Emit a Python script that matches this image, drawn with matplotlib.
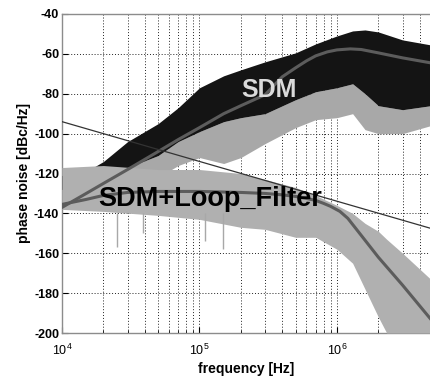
import matplotlib
matplotlib.use("Agg")
import matplotlib.pyplot as plt
import numpy as np

plt.rcParams['font.family'] = ['Liberation Sans', 'DejaVu Sans']
plt.rcParams['mathtext.fontset'] = 'custom'
plt.rcParams['mathtext.rm'] = 'Liberation Sans:bold'
plt.rcParams['mathtext.it'] = 'Liberation Sans:bold'
plt.rcParams['mathtext.bf'] = 'Liberation Sans:bold'

# ---- data ----
# SDM (black) spectrum envelope
sdm_freq = [1e4, 1.5e4, 2e4, 3e4, 5e4, 7e4, 1e5, 1.5e5, 2e5, 3e5, 5e5, 7e5,
            1e6, 1.3e6, 1.6e6, 2e6, 3e6, 4.8e6]
sdm_upper = [-121, -119, -114, -104, -95, -87, -77, -71, -68, -64, -59.5, -55,
             -51, -48.5, -48, -49, -53, -55.5]
sdm_lower = [-128, -127, -124, -117, -111, -104, -99, -94, -92, -90, -83, -79,
             -77, -75, -80, -86, -88, -86]
sdm_spike_min = [-136, -134, -132, -128, -122, -116, -112, -115, -112, -105, -97, -93,
                 -92, -90, -98, -100, -100, -96]

# SDM + loop filter (gray) spectrum envelope
flt_freq = [1e4, 2e4, 5e4, 1e5, 2e5, 3e5, 5e5, 7e5, 1e6, 1.3e6, 1.6e6, 2e6,
            2.3e6, 3e6, 4.8e6]
flt_upper = [-117, -116, -118, -118, -120, -123, -127, -131, -136, -140, -145, -149,
             -153, -160, -173]
flt_lower = [-138, -139, -141, -143, -147, -148, -152, -152, -158, -165, -178, -192,
             -200, -200, -200]
# isolated deep spikes of the filtered spectrum
flt_spike_freq = [2.5e4, 3.9e4, 1.1e5, 1.48e5]
flt_spike_min = [-157, -150, -154, -158]

# theoretical curves
th_sdm_freq = [1e4, 1.5e4, 2e4, 3e4, 5e4, 7e4, 1e5, 1.5e5, 2e5, 3e5, 4e5, 5e5,
               6e5, 7e5, 8.5e5, 1e6, 1.25e6, 1.5e6, 2e6, 3e6, 4.8e6]
th_sdm = [-137, -130, -125, -118, -109, -103, -97, -90, -86, -80.5, -71.5, -67,
          -63.5, -61, -59, -58, -57.5, -57.8, -59.5, -62, -64.5]
th_flt_freq = [1e4, 1.5e4, 2e4, 3e4, 5e4, 1e5, 2e5, 3e5, 4e5, 5e5, 6e5, 7e5,
               8e5, 9e5, 1.05e6, 1.2e6, 1.5e6, 2e6, 3e6, 4.8e6]
th_flt = [-135.5, -133, -131, -129.5, -129, -129, -129.5, -130, -130.7, -131.5, -132.5, -133.5,
          -135, -136.5, -139, -142.5, -151, -162, -176, -193]

# -20 dB/dec reference line
ref_freq = [1e4, 4.8e6]
ref_val = [-94, -147.5]

yticks = [-200, -180, -160, -140, -120, -100, -80, -60, -40]

# ---- figure ----
fig = plt.figure(figsize=(4.30, 3.76), dpi=100)
ax = fig.add_axes([62 / 430, 43 / 376, 368 / 430, 319 / 376])

ax.fill_between(sdm_freq, sdm_spike_min, sdm_lower, color='#a8a8a8', lw=0, zorder=2)
ax.fill_between(sdm_freq, sdm_lower, sdm_upper, color='#141414', lw=0, zorder=3)
ax.fill_between(flt_freq, flt_lower, flt_upper, color='#b0b0b0', lw=0, zorder=4)
ax.vlines(flt_spike_freq, flt_spike_min, -140, color='#a8a8a8', lw=1.0, zorder=4)

ax.plot(th_sdm_freq, th_sdm, color='#5c5c5c', lw=2.2, zorder=5)
ax.plot(th_flt_freq, th_flt, color='#5c5c5c', lw=2.2, zorder=5)
ax.plot(ref_freq, ref_val, color='#333333', lw=0.9, zorder=6)

ax.text(3.2e5, -78, 'SDM', color='#dadada', fontsize=18, fontweight='bold',
        ha='center', va='center', zorder=7)
ax.text(1.85e4, -133, 'SDM+Loop_Filter', color='black', fontsize=19.5,
        fontweight='bold', ha='left', va='center', zorder=7)

ax.set_xscale('log')
ax.set_xlim(1e4, 4.75e6)
ax.set_ylim(-200, -40)
ax.set_yticks(yticks)
ax.set_yticklabels([str(v) for v in yticks])

ax.grid(True, which='both', color='#222222', linestyle=(0, (1, 2)), lw=0.7, zorder=1)
ax.set_axisbelow(True)

ax.tick_params(axis='both', which='both', direction='in', labelsize=9, pad=2)
ax.tick_params(axis='both', which='minor', length=2)
ax.tick_params(axis='both', which='major', length=4)
for lab in ax.get_yticklabels():
    lab.set_fontweight('bold')
ax.tick_params(axis='x', pad=7)

for s in ['top', 'bottom', 'left']:
    ax.spines[s].set_color('#8c8c8c')
    ax.spines[s].set_linewidth(1.0)
ax.spines['right'].set_visible(False)

ax.set_xlabel('frequency [Hz]', fontsize=10, fontweight='bold', labelpad=3)
ax.set_ylabel('phase noise [dBc/Hz]', fontsize=10, fontweight='bold', labelpad=2)

fig.savefig('out.png', dpi=100)
